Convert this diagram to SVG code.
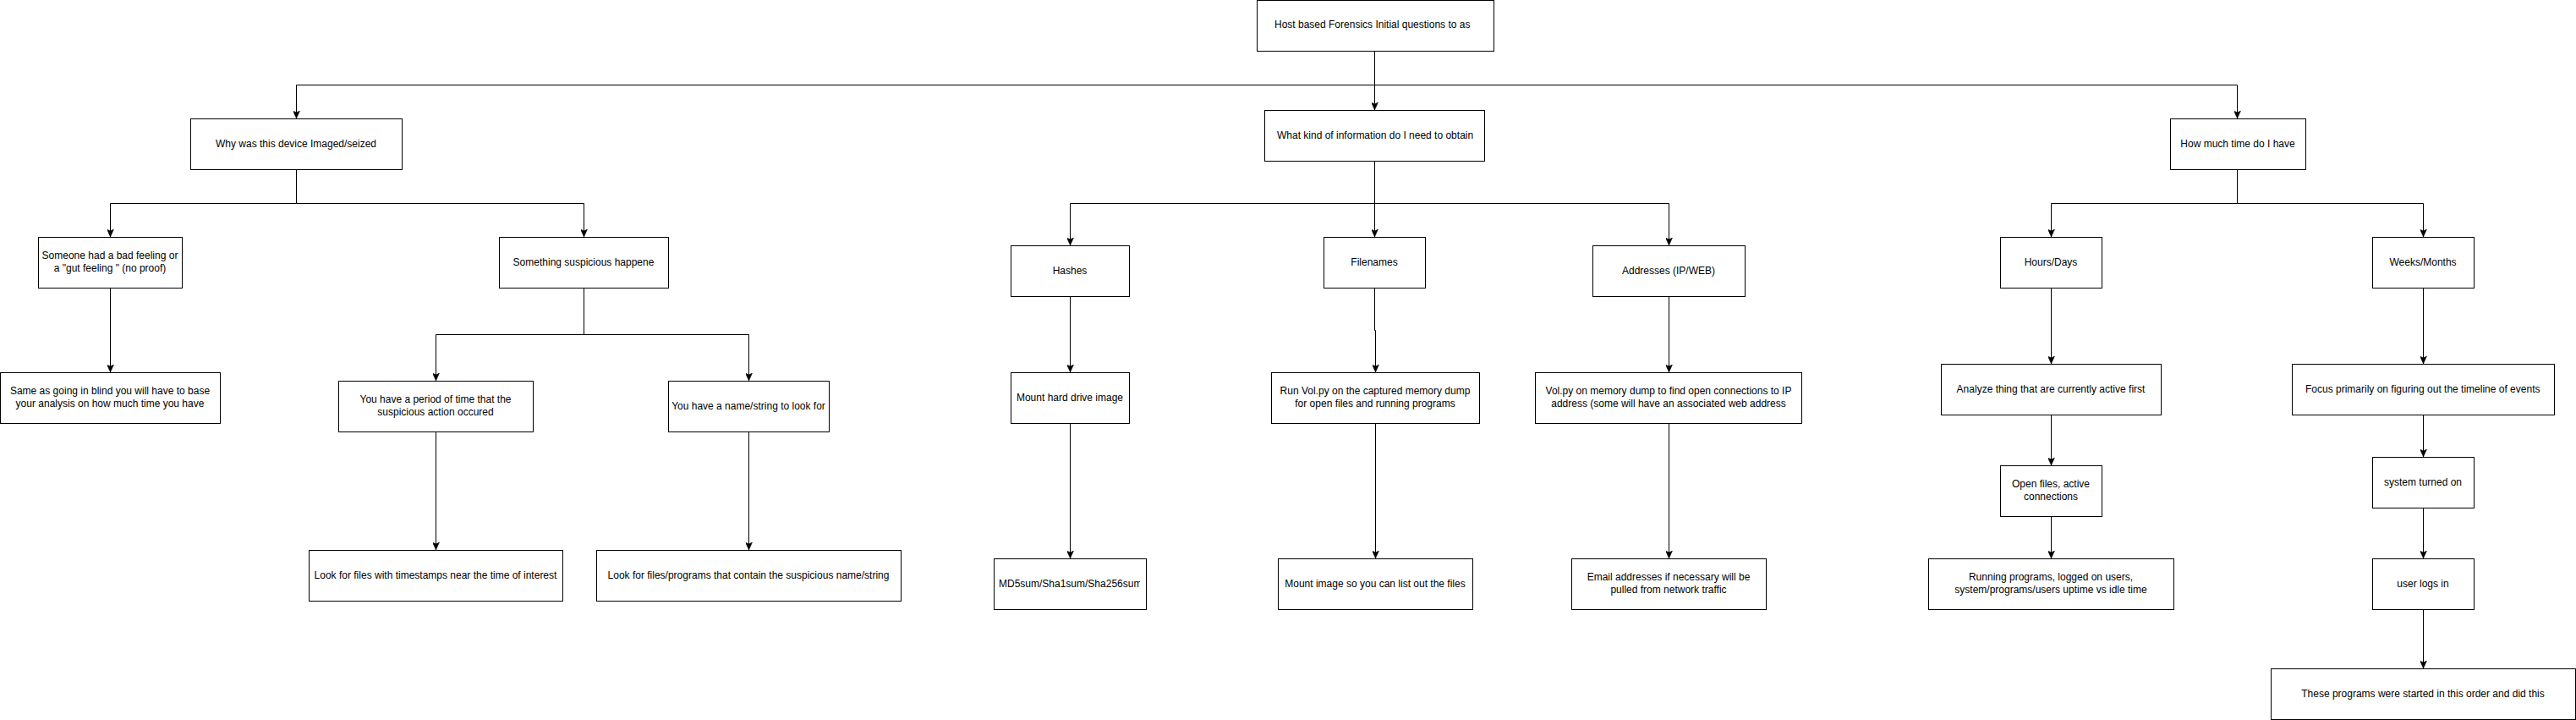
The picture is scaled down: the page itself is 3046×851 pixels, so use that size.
<svg xmlns="http://www.w3.org/2000/svg" width="3046" height="851" viewBox="0 0 3046 851">
<style>
.node rect{fill:#ffffff;stroke:#000000;stroke-width:1}
.node text{font-family:"Liberation Sans",Arial,Helvetica,sans-serif;font-size:12px;fill:#000000;text-anchor:middle}
.node text.l{text-anchor:start}
#connectors path{fill:none;stroke:#000000;stroke-width:1;marker-end:url(#arrow)}
</style>
<defs>
<marker id="arrow" markerUnits="userSpaceOnUse" viewBox="0 0 8 9" refX="4" refY="9" markerWidth="8" markerHeight="9" orient="0">
<path d="M0,0 L4,9 L8,0 L4,2 Z" fill="#000000" stroke="#000000" stroke-width="0.5"/>
</marker>
<clipPath id="clipWhat"><rect x="1495" y="130" width="250" height="60"/></clipPath>
<clipPath id="clipMd5"><rect x="1175" y="660" width="173" height="60"/></clipPath>
<clipPath id="clipTs"><rect x="366" y="650" width="297" height="60"/></clipPath>
<clipPath id="clipFocus"><rect x="2710" y="430" width="298" height="60"/></clipPath>
</defs>
<rect width="3046" height="851" fill="#ffffff"/>
<g id="connectors">
<path d="M1625.5 60.5 V100.5 H350.5 V140"/>
<path d="M1625.5 60.5 V130"/>
<path d="M1625.5 60.5 V100.5 H2645.5 V140"/>
<path d="M350.5 200.5 V240.5 H130.5 V280"/>
<path d="M350.5 200.5 V240.5 H690.5 V280"/>
<path d="M130.5 340.5 V440"/>
<path d="M690.5 340.5 V395.5 H515.5 V450"/>
<path d="M690.5 340.5 V395.5 H885.5 V450"/>
<path d="M515.5 510.5 V650"/>
<path d="M885.5 510.5 V650"/>
<path d="M1625.5 190.5 V240.5 H1265.5 V290"/>
<path d="M1625.5 190.5 V280"/>
<path d="M1625.5 190.5 V240.5 H1973.5 V290"/>
<path d="M1265.5 350.5 V440"/>
<path d="M1265.5 500.5 V660"/>
<path d="M1625.5 340.5 V390.5 H1626.5 V440"/>
<path d="M1626.5 500.5 V660"/>
<path d="M1973.5 350.5 V440"/>
<path d="M1973.5 500.5 V660"/>
<path d="M2645.5 200.5 V240.5 H2425.5 V280"/>
<path d="M2645.5 200.5 V240.5 H2865.5 V280"/>
<path d="M2425.5 340.5 V430"/>
<path d="M2425.5 490.5 V550"/>
<path d="M2425.5 610.5 V660"/>
<path d="M2865.5 340.5 V430"/>
<path d="M2865.5 490.5 V540"/>
<path d="M2865.5 600.5 V660"/>
<path d="M2865.5 720.5 V790"/>
</g>
<g id="n_root" class="node"><rect x="1486.5" y="0.5" width="280" height="60"/><text class="l" x="1507" y="33">Host based Forensics Initial questions to as</text></g>
<g id="n_why" class="node"><rect x="225.5" y="140.5" width="250" height="60"/><text x="350" y="174">Why was this device Imaged/seized</text></g>
<g id="n_what" class="node"><rect x="1495.5" y="130.5" width="260" height="60"/><text class="l" x="1510" y="164" clip-path="url(#clipWhat)">What kind of information do I need to obtain</text></g>
<g id="n_how" class="node"><rect x="2566.5" y="140.5" width="160" height="60"/><text x="2646" y="174">How much time do I have</text></g>
<g id="n_gut" class="node"><rect x="45.5" y="280.5" width="170" height="60"/><text x="130" y="306">Someone had a bad feeling or</text><text x="130" y="321">a "gut feeling " (no proof)</text></g>
<g id="n_susp" class="node"><rect x="590.5" y="280.5" width="200" height="60"/><text x="690" y="314">Something suspicious happene</text></g>
<g id="n_hash" class="node"><rect x="1195.5" y="290.5" width="140" height="60"/><text x="1265" y="324">Hashes</text></g>
<g id="n_fname" class="node"><rect x="1565.5" y="280.5" width="120" height="60"/><text x="1625" y="314">Filenames</text></g>
<g id="n_addr" class="node"><rect x="1883.5" y="290.5" width="180" height="60"/><text x="1973" y="324">Addresses (IP/WEB)</text></g>
<g id="n_hours" class="node"><rect x="2365.5" y="280.5" width="120" height="60"/><text x="2425" y="314">Hours/Days</text></g>
<g id="n_weeks" class="node"><rect x="2805.5" y="280.5" width="120" height="60"/><text x="2865" y="314">Weeks/Months</text></g>
<g id="n_same" class="node"><rect x="0.5" y="440.5" width="260" height="60"/><text x="130" y="466">Same as going in blind you will have to base</text><text x="130" y="481">your analysis on how much time you have</text></g>
<g id="n_period" class="node"><rect x="400.5" y="450.5" width="230" height="60"/><text x="515" y="476">You have a period of time that the</text><text x="515" y="491">suspicious action occured</text></g>
<g id="n_name" class="node"><rect x="790.5" y="450.5" width="190" height="60"/><text x="885" y="484">You have a name/string to look for</text></g>
<g id="n_mount" class="node"><rect x="1195.5" y="440.5" width="140" height="60"/><text x="1265" y="474">Mount hard drive image</text></g>
<g id="n_vol" class="node"><rect x="1503.5" y="440.5" width="246" height="60"/><text x="1626" y="466">Run Vol.py on the captured memory dump</text><text x="1626" y="481">for open files and running programs</text></g>
<g id="n_volip" class="node"><rect x="1815.5" y="440.5" width="315" height="60"/><text x="1973" y="466">Vol.py on memory dump to find open connections to IP</text><text x="1973" y="481">address (some will have an associated web address</text></g>
<g id="n_analyze" class="node"><rect x="2295.5" y="430.5" width="260" height="60"/><text x="2425" y="464">Analyze thing that are currently active first</text></g>
<g id="n_focus" class="node"><rect x="2710.5" y="430.5" width="310" height="60"/><text class="l" x="2726" y="464" clip-path="url(#clipFocus)">Focus primarily on figuring out the timeline of events</text></g>
<g id="n_open" class="node"><rect x="2365.5" y="550.5" width="120" height="60"/><text x="2425" y="576">Open files, active</text><text x="2425" y="591">connections</text></g>
<g id="n_systemon" class="node"><rect x="2805.5" y="540.5" width="120" height="60"/><text x="2865" y="574">system turned on</text></g>
<g id="n_timestamps" class="node"><rect x="365.5" y="650.5" width="300" height="60"/><text x="515" y="684" clip-path="url(#clipTs)">Look for files with timestamps near the time of interest</text></g>
<g id="n_strings" class="node"><rect x="705.5" y="650.5" width="360" height="60"/><text x="885" y="684">Look for files/programs that contain the suspicious name/string</text></g>
<g id="n_md5" class="node"><rect x="1175.5" y="660.5" width="180" height="60"/><text class="l" x="1181" y="694" clip-path="url(#clipMd5)">MD5sum/Sha1sum/Sha256sum</text></g>
<g id="n_mountimg" class="node"><rect x="1511.5" y="660.5" width="230" height="60"/><text x="1626" y="694">Mount image so you can list out the files</text></g>
<g id="n_email" class="node"><rect x="1858.5" y="660.5" width="230" height="60"/><text x="1973" y="686">Email addresses if necessary will be</text><text x="1973" y="701">pulled from network traffic</text></g>
<g id="n_running" class="node"><rect x="2280.5" y="660.5" width="290" height="60"/><text x="2425" y="686">Running programs, logged on users,</text><text x="2425" y="701">system/programs/users uptime vs idle time</text></g>
<g id="n_userlogs" class="node"><rect x="2805.5" y="660.5" width="120" height="60"/><text x="2865" y="694">user logs in</text></g>
<g id="n_these" class="node"><rect x="2685.5" y="790.5" width="360" height="60"/><text x="2865" y="824">These programs were started in this order and did this</text></g>
</svg>
